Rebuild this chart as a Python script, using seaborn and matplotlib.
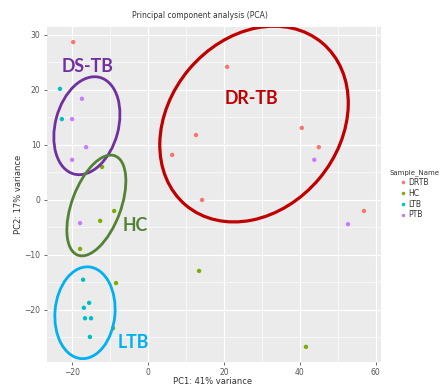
import matplotlib
matplotlib.use("Agg")
import matplotlib.pyplot as plt
import matplotlib.transforms as mtransforms
from matplotlib.patches import Ellipse
import seaborn as sns
import pandas as pd

# ---- data ----
drtb_x = [-19.8, 20.8, 12.6, 6.3, 40.5, 45.0, 14.2, 56.9]
drtb_y = [28.7, 24.2, 11.8, 8.2, 13.1, 9.6, 0.0, -2.0]
hc_x = [-12.2, -9.0, -12.7, -18.0, -8.5, -9.3, 13.4, 41.6]
hc_y = [6.0, -2.0, -3.8, -8.9, -15.1, -23.3, -12.9, -26.7]
ltb_x = [-23.3, -22.8, -17.2, -15.6, -17.0, -16.7, -15.1, -15.4]
ltb_y = [20.2, 14.7, -14.5, -18.7, -19.6, -21.5, -21.5, -24.9]
ptb_x = [-20.1, -17.5, -16.4, -20.1, -18.0, 43.8, 52.7]
ptb_y = [14.7, 18.4, 9.6, 7.3, -4.2, 7.3, -4.4]
groups = ["DRTB", "HC", "LTB", "PTB"]
palette = ["#F8766D", "#7CAE00", "#00BFC4", "#C77CFF"]

x_ticks = [-20, 0, 20, 40, 60]
y_ticks = [-20, -10, 0, 10, 20, 30]

# annotation ellipses: label, text pos (data), center (data), size (px), angle, colour
ann_labels = ["DR-TB", "DS-TB", "HC", "LTB"]
ann_text_xy = [(27.2, 18.4), (-15.9, 24.2), (-3.5, -4.7), (-4.0, -26.0)]
ann_center = [(27.9, 13.8), (-16.2, 13.5), (-13.7, -1.0), (-16.7, -20.5)]
ann_size_px = [(212, 170), (100, 63), (106, 49), (92, 60)]
ann_angle = [50, 75, 69.5, 85]
ann_colors = ["#C00000", "#7030A0", "#548235", "#00B0F0"]
ann_lw = [2.3, 2.0, 2.0, 2.0]

xs = drtb_x + hc_x + ltb_x + ptb_x
ys = drtb_y + hc_y + ltb_y + ptb_y
names = (["DRTB"] * len(drtb_x) + ["HC"] * len(hc_x)
         + ["LTB"] * len(ltb_x) + ["PTB"] * len(ptb_x))
df = pd.DataFrame({"PC1": xs, "PC2": ys, "Sample_Name": names})

sns.set_style("darkgrid", {"axes.facecolor": "#EBEBEB", "grid.color": "white"})
plt.rcParams["font.family"] = ["DejaVu Sans"]

fig = plt.figure(figsize=(4.41, 3.90), dpi=100)
ax = fig.add_axes([46.7 / 441, 1 - 361.7 / 390, (381 - 46.7) / 441, (361.7 - 26.7) / 390])

sns.scatterplot(data=df, x="PC1", y="PC2", hue="Sample_Name", hue_order=groups,
                palette=palette, s=10, linewidth=0, ax=ax, zorder=3)

ax.set_xlim(-26.8, 61.4)
ax.set_ylim(-29.4, 31.5)
ax.set_xticks(x_ticks)
ax.set_yticks(y_ticks)
ax.set_xticks([-10, 10, 30, 50], minor=True)
ax.set_yticks([-25, -15, -5, 5, 15, 25], minor=True)
ax.grid(which="major", color="white", linewidth=0.9)
ax.grid(which="minor", color="white", linewidth=0.45)
for s in ax.spines.values():
    s.set_visible(False)
ax.tick_params(which="major", length=2.5, width=0.6, color="#555555",
               labelsize=5.5, labelcolor="#555555", pad=2, bottom=True, left=True)
ax.tick_params(which="minor", length=0)
ax.set_xlabel("")
ax.set_ylabel("")

fig.text(213 / 441, 1 - 382 / 390, "PC1: 41% variance", ha="center", va="center",
         fontsize=6, color="#333333")
fig.text(19 / 441, 1 - 194 / 390, "PC2: 17% variance", ha="center", va="center",
         rotation=90, fontsize=6, color="#333333")
fig.text(200 / 441, 1 - 16 / 390, "Principal component analysis (PCA)", ha="center",
         va="center", fontsize=5.5, color="#333333")

# annotation ellipses and labels
for lab, txy, c, (w, h), ang, col, lw in zip(ann_labels, ann_text_xy, ann_center,
                                             ann_size_px, ann_angle, ann_colors, ann_lw):
    tr = fig.dpi_scale_trans + mtransforms.ScaledTranslation(c[0], c[1], ax.transData)
    e = Ellipse((0, 0), w / 100, h / 100, angle=ang, transform=tr, fill=False,
                edgecolor=col, linewidth=lw, zorder=4)
    ax.add_patch(e)
    ax.text(txy[0], txy[1], lab, color=col, fontsize=12.8, fontweight="bold",
            family=["Lato", "DejaVu Sans"], ha="center", va="center", zorder=5)

leg = ax.legend(title="Sample_Name", loc="upper left",
                bbox_to_anchor=(386 / 441, 1 - 166 / 390), bbox_transform=fig.transFigure,
                frameon=False, fontsize=5.5, title_fontsize=5, markerscale=0.8,
                handletextpad=0.2, labelspacing=0.25, borderaxespad=0, handlelength=1.0)
for t in leg.get_texts():
    t.set_color("#333333")
leg.get_title().set_color("#333333")

fig.savefig("out.png", dpi=100)
